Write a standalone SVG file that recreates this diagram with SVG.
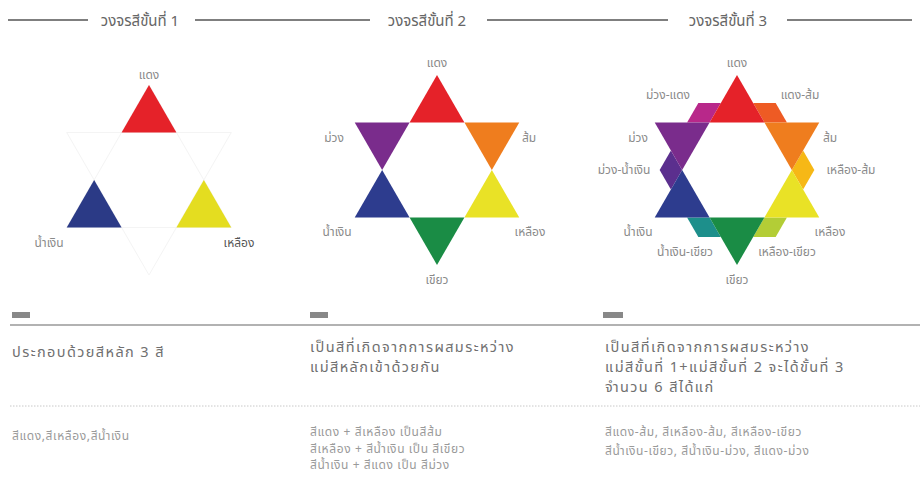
<svg xmlns="http://www.w3.org/2000/svg" width="920" height="483" viewBox="0 0 920 483">
<style>
text{font-family:"Noto Sans Thai","Noto Sans","DejaVu Sans",sans-serif}
.hd{font-size:15px;fill:#666}
.lb{font-size:12px;fill:#8a8a8a;text-anchor:middle}
.ds{font-size:14.5px;fill:#707070;letter-spacing:1.4px}
.sm{font-size:12px;fill:#9a9a9a;letter-spacing:0.6px}
.hl{stroke:#555;stroke-width:1.5}
.ghost{fill:none;stroke:#f4f4f4;stroke-width:1}
.box{fill:#888}
</style>
<defs>
<polygon id="tR" points="0,-95 27.42,-47.5 -27.42,-47.5"/>
<polygon id="tO" points="82.27,-47.5 27.42,-47.5 54.85,0"/>
<polygon id="tY" points="82.27,47.5 54.85,0 27.42,47.5"/>
<polygon id="tG" points="0,95 27.42,47.5 -27.42,47.5"/>
<polygon id="tB" points="-82.27,47.5 -27.42,47.5 -54.85,0"/>
<polygon id="tP" points="-82.27,-47.5 -54.85,0 -27.42,-47.5"/>
</defs>

<g id="headers">
<line class="hl" x1="8" y1="20" x2="88" y2="20"/>
<text class="hd" x="140" y="26" text-anchor="middle">วงจรสีขั้นที่ 1</text>
<line class="hl" x1="195" y1="20" x2="370" y2="20"/>
<text class="hd" x="427" y="26" text-anchor="middle">วงจรสีขั้นที่ 2</text>
<line class="hl" x1="487" y1="20" x2="668" y2="20"/>
<text class="hd" x="728" y="26" text-anchor="middle">วงจรสีขั้นที่ 3</text>
<line class="hl" x1="787" y1="20" x2="912" y2="20"/>
</g>

<g id="star1" transform="translate(149,180)">
<polygon class="ghost" points="0,-95 82.27,47.5 -82.27,47.5"/>
<polygon class="ghost" points="0,95 82.27,-47.5 -82.27,-47.5"/>
<use href="#tR" fill="#e52229"/>
<use href="#tB" fill="#2b3a86"/>
<use href="#tY" fill="#e4dd20"/>
<text class="lb" x="0" y="-101">แดง</text>
<text class="lb" x="-100" y="67">น้ำเงิน</text>
<text class="lb" x="90" y="67" style="fill:#555">เหลือง</text>
</g>

<g id="star2" transform="translate(437,170)">
<use href="#tR" fill="#e52229"/>
<use href="#tO" fill="#ef7d1e"/>
<use href="#tY" fill="#e9e226"/>
<use href="#tG" fill="#1a8c45"/>
<use href="#tB" fill="#2d3c8e"/>
<use href="#tP" fill="#7a2c8c"/>
<text class="lb" x="0" y="-103">แดง</text>
<text class="lb" x="-103" y="-28">ม่วง</text>
<text class="lb" x="92" y="-28">ส้ม</text>
<text class="lb" x="-100" y="66">น้ำเงิน</text>
<text class="lb" x="93" y="66">เหลือง</text>
<text class="lb" x="0" y="114">เขียว</text>
</g>

<g id="star3" transform="translate(737,170)">
<polygon fill="#b8288a" points="-27.42,-47.5 -16.17,-66.99 -38.67,-66.99 -49.92,-47.5"/>
<polygon fill="#ee5b24" points="27.42,-47.5 16.17,-66.99 38.67,-66.99 49.92,-47.5"/>
<polygon fill="#f6b816" points="54.85,0 66.1,-19.49 77.35,0 66.1,19.49"/>
<polygon fill="#b3cd36" points="27.42,47.5 49.92,47.5 38.67,66.99 16.17,66.99"/>
<polygon fill="#1d8f8b" points="-27.42,47.5 -49.92,47.5 -38.67,66.99 -16.17,66.99"/>
<polygon fill="#5b2f8e" points="-54.85,0 -66.1,-19.49 -77.35,0 -66.1,19.49"/>
<use href="#tR" fill="#e52229"/>
<use href="#tO" fill="#ef7d1e"/>
<use href="#tY" fill="#e9e226"/>
<use href="#tG" fill="#1a8c45"/>
<use href="#tB" fill="#2d3c8e"/>
<use href="#tP" fill="#7a2c8c"/>
<text class="lb" x="0" y="-103">แดง</text>
<text class="lb" x="-69" y="-71">ม่วง-แดง</text>
<text class="lb" x="63" y="-71">แดง-ส้ม</text>
<text class="lb" x="-99" y="-28">ม่วง</text>
<text class="lb" x="93" y="-28">ส้ม</text>
<text class="lb" x="-113" y="4">ม่วง-น้ำเงิน</text>
<text class="lb" x="114" y="4">เหลือง-ส้ม</text>
<text class="lb" x="-99" y="66">น้ำเงิน</text>
<text class="lb" x="93" y="66">เหลือง</text>
<text class="lb" x="-52" y="86">น้ำเงิน-เขียว</text>
<text class="lb" x="50" y="86">เหลือง-เขียว</text>
<text class="lb" x="0" y="114">เขียว</text>
</g>

<g id="section">
<rect class="box" x="12" y="312" width="18" height="6"/>
<rect class="box" x="310" y="312" width="18" height="6"/>
<rect class="box" x="603" y="312" width="20" height="6"/>
<line x1="10" y1="325" x2="920" y2="325" stroke="#999" stroke-width="1.5"/>
<text class="ds" x="12" y="357">ประกอบด้วยสีหลัก 3 สี</text>
<text class="ds" x="310" y="352">เป็นสีที่เกิดจากการผสมระหว่าง</text>
<text class="ds" x="310" y="372">แม่สีหลักเข้าด้วยกัน</text>
<text class="ds" x="605" y="352">เป็นสีที่เกิดจากการผสมระหว่าง</text>
<text class="ds" x="605" y="372">แม่สีขั้นที่ 1+แม่สีขั้นที่ 2 จะได้ขั้นที่ 3</text>
<text class="ds" x="605" y="392">จำนวน 6 สีได้แก่</text>
<line x1="10" y1="406" x2="920" y2="406" stroke="#c8c8c8" stroke-width="1" stroke-dasharray="1.5,1.5"/>
<text class="sm" x="12" y="440">สีแดง,สีเหลือง,สีน้ำเงิน</text>
<text class="sm" x="310" y="436">สีแดง + สีเหลือง เป็นสีส้ม</text>
<text class="sm" x="310" y="452.5">สีเหลือง + สีน้ำเงิน เป็น สีเขียว</text>
<text class="sm" x="310" y="469">สีน้ำเงิน + สีแดง เป็น สีม่วง</text>
<text class="sm" x="605" y="436">สีแดง-ส้ม, สีเหลือง-ส้ม, สีเหลือง-เขียว</text>
<text class="sm" x="605" y="455">สีน้ำเงิน-เขียว, สีน้ำเงิน-ม่วง, สีแดง-ม่วง</text>
</g>
</svg>
